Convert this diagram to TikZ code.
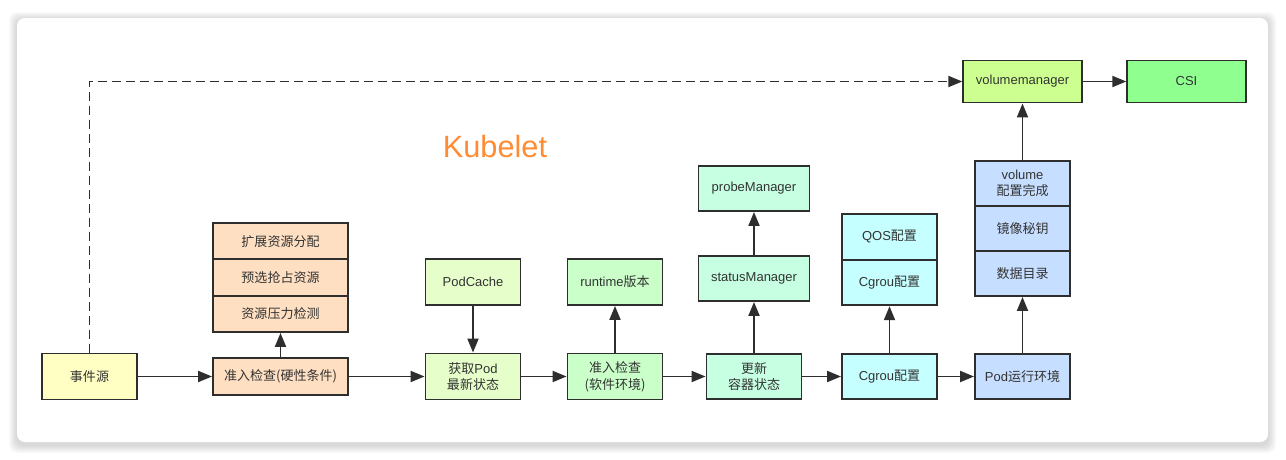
\documentclass[tikz,border=0pt]{standalone}
\usepackage{fontspec}
\setmainfont{Liberation Sans}
\newfontfamily\cjk{Noto Sans CJK SC}
\usetikzlibrary{arrows.meta}
\definecolor{txt}{HTML}{333333}
\definecolor{edge}{HTML}{2E2E2E}
\definecolor{cYellow}{HTML}{FFFFC4}
\definecolor{cPeach}{HTML}{FFDFC2}
\definecolor{cLime}{HTML}{E6FFCA}
\definecolor{cGreen}{HTML}{CAFFCA}
\definecolor{cMint}{HTML}{C6FFE2}
\definecolor{cCyan}{HTML}{C6FFFF}
\definecolor{cBlue}{HTML}{C6DEFF}
\definecolor{cVm}{HTML}{CCFF8F}
\definecolor{cCsi}{HTML}{8FFF8F}
\definecolor{orng}{HTML}{FF8C33}
\tikzset{>={Triangle[length=0.28cm,width=0.22cm]}}
\tikzset{
  box/.style={draw=edge, line width=1.1pt, minimum width=1.9cm, minimum height=0.92cm,
    inner sep=0pt, align=center, text=txt, font=\fontsize{7.4}{9.5}\selectfont},
  wide/.style={minimum width=2.7cm},
  mgr/.style={minimum width=2.22cm, minimum height=0.9cm},
  top/.style={minimum width=2.37cm, minimum height=0.84cm},
  line/.style={->, line width=1.1pt, draw=edge}
}

\begin{document}
\begin{tikzpicture}[x=0.02cm, y=-0.02cm]
\useasboundingbox (0,0) rectangle (1286,460);
% panel
\foreach \s in {1,...,8}
\fill[black, opacity=0.02, rounded corners=4.5pt] (17-\s,18-\s+2) rectangle (1268+\s,442+\s+3);
\fill[white, rounded corners=4.5pt] (17,18) rectangle (1268,442);
\node[text=orng, font=\fontsize{17.5}{20}\selectfont] (title) at (495,147) {Kubelet};
% main row
\node[box, fill=cYellow] (src) at (89.5,376.5) {{\cjk 事件源}};
\node[box, wide, fill=cPeach, minimum height=0.74cm] (adm) at (280.5,376.5) {{\cjk 准入检查(硬性条件)}};
\node[box, fill=cLime] (get) at (473,376.5) {{\cjk 获取}Pod\\{\cjk 最新状态}};
\node[box, fill=cGreen] (soft) at (615,376.5) {{\cjk 准入检查}\\{\cjk (软件环境)}};
\node[box, fill=cMint, minimum height=0.9cm] (upd) at (754,376.5) {{\cjk 更新}\\{\cjk 容器状态}};
\node[box, fill=cCyan, minimum height=0.9cm] (cg) at (889.5,376.5) {Cgrou{\cjk 配置}};
\node[box, fill=cBlue, minimum height=0.9cm] (env) at (1022.5,376.5) {Pod{\cjk 运行环境}};
% stacks
\node[box, wide, fill=cPeach, minimum height=0.727cm] (ext) at (280.5,241.2) {{\cjk 扩展资源分配}};
\node[box, wide, fill=cPeach, minimum height=0.727cm] (pre) at (280.5,277.5) {{\cjk 预选抢占资源}};
\node[box, wide, fill=cPeach, minimum height=0.727cm] (prs) at (280.5,313.8) {{\cjk 资源压力检测}};
\node[box, fill=cLime] (cache) at (473,282) {PodCache};
\node[box, fill=cGreen] (rt) at (615,282) {runtime{\cjk 版本}};
\node[box, mgr, fill=cMint] (prb) at (754,188.5) {probeManager};
\node[box, mgr, fill=cMint] (stm) at (754,278.5) {statusManager};
\node[box, fill=cCyan, minimum height=0.91cm] (qos) at (889.5,237) {QOS{\cjk 配置}};
\node[box, fill=cCyan, minimum height=0.91cm] (cgs) at (889.5,282.5) {Cgrou{\cjk 配置}};
\node[box, fill=cBlue, minimum height=0.9cm] (vol) at (1022.5,183.5) {volume\\{\cjk 配置完成}};
\node[box, fill=cBlue, minimum height=0.9cm] (key) at (1022.5,228.5) {{\cjk 镜像秘钥}};
\node[box, fill=cBlue, minimum height=0.9cm] (dir) at (1022.5,273.5) {{\cjk 数据目录}};
\node[box, top, fill=cVm] (vm) at (1022.5,81.5) {volumemanager};
\node[box, top, fill=cCsi] (csi) at (1186.5,81.5) {CSI};
% connectors
\foreach \a/\b in {src/adm, adm/get, get/soft, soft/upd, upd/cg, cg/env, vm/csi}
\draw[line] (\a.east) -- (\b.west);
\foreach \a/\b in {adm/prs, soft/rt, upd/stm, stm/prb, cg/cgs, env/dir, vol/vm}
\draw[line] (\a.north) -- (\b.south);
\draw[line] (cache.south) -- (get.north);
\draw[line, dash pattern=on 0.17cm off 0.11cm] (src.north) |- (vm.west);
\end{tikzpicture}
\end{document}
